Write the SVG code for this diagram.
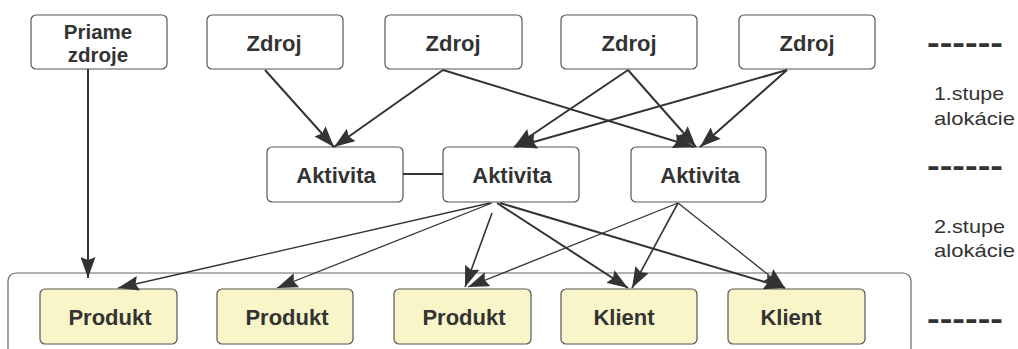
<svg xmlns="http://www.w3.org/2000/svg" width="1018" height="349" viewBox="0 0 1018 349">
<style>
.box{fill:#fff;stroke:#555;stroke-width:1.2}
.ybox{fill:#f8f6c8;stroke:#555;stroke-width:1.2}
.lbl{font-family:"Liberation Sans",Arial,sans-serif;font-weight:bold;font-size:22px;fill:#333;text-anchor:middle}
.two{font-size:20.5px}
.side{font-family:"Liberation Sans",Arial,sans-serif;font-size:19px;fill:#333}
.dash{font-family:"Liberation Sans",Arial,sans-serif;font-weight:bold;font-size:32px;fill:#333}
.c{stroke:#333;stroke-width:2;fill:none;marker-end:url(#arr)}
.t{stroke-width:1.3}
.m{stroke-width:1.6}
</style>
<defs>
<marker id="arr" markerUnits="userSpaceOnUse" markerWidth="21" markerHeight="15" refX="21" refY="7.5" orient="auto">
<path d="M0,0 L21,7.5 L0,15 L3,7.5 Z" fill="#333"/>
</marker>
</defs>
<rect width="1018" height="349" fill="#fff"/>
<g id="container"><rect x="8" y="273" width="903" height="110" rx="8" fill="none" stroke="#666" stroke-width="1.2"/></g>

<g id="priame"><rect class="box" x="31" y="15" width="136" height="54" rx="5"/><text class="lbl two" x="98" y="39">Priame</text><text class="lbl two" x="98" y="62">zdroje</text></g>
<g id="zdroj1"><rect class="box" x="207" y="15" width="136" height="54" rx="5"/><text class="lbl" x="274" y="51">Zdroj</text></g>
<g id="zdroj2"><rect class="box" x="385" y="15" width="137" height="54" rx="5"/><text class="lbl" x="453" y="51">Zdroj</text></g>
<g id="zdroj3"><rect class="box" x="561" y="15" width="136" height="54" rx="5"/><text class="lbl" x="629" y="51">Zdroj</text></g>
<g id="zdroj4"><rect class="box" x="739" y="15" width="136" height="54" rx="5"/><text class="lbl" x="807" y="51">Zdroj</text></g>

<g id="aktivita1"><rect class="box" x="267" y="147" width="136" height="55" rx="5"/><text class="lbl" x="336" y="183">Aktivita</text></g>
<g id="aktivita2"><rect class="box" x="443" y="147" width="136" height="55" rx="5"/><text class="lbl" x="512" y="183">Aktivita</text></g>
<g id="aktivita3"><rect class="box" x="631" y="147" width="135" height="55" rx="5"/><text class="lbl" x="700" y="183">Aktivita</text></g>

<g id="produkt1"><rect class="ybox" x="40" y="289" width="137" height="55" rx="5"/><text class="lbl" x="110" y="325">Produkt</text></g>
<g id="produkt2"><rect class="ybox" x="217" y="289" width="136" height="55" rx="5"/><text class="lbl" x="287" y="325">Produkt</text></g>
<g id="produkt3"><rect class="ybox" x="394" y="289" width="137" height="55" rx="5"/><text class="lbl" x="464" y="325">Produkt</text></g>
<g id="klient1"><rect class="ybox" x="561" y="289" width="136" height="55" rx="5"/><text class="lbl" x="624" y="325">Klient</text></g>
<g id="klient2"><rect class="ybox" x="728" y="289" width="137" height="55" rx="5"/><text class="lbl" x="791" y="325">Klient</text></g>

<g id="legend">
<text class="dash" x="927" y="53" textLength="76" lengthAdjust="spacingAndGlyphs">------</text>
<text class="side" x="934" y="100" textLength="70" lengthAdjust="spacingAndGlyphs">1.stupe</text>
<text class="side" x="934" y="125" textLength="81" lengthAdjust="spacingAndGlyphs">alokácie</text>
<text class="dash" x="927" y="176" textLength="76" lengthAdjust="spacingAndGlyphs">------</text>
<text class="side" x="934" y="233" textLength="71" lengthAdjust="spacingAndGlyphs">2.stupe</text>
<text class="side" x="934" y="257" textLength="81" lengthAdjust="spacingAndGlyphs">alokácie</text>
<text class="dash" x="927" y="329" textLength="76" lengthAdjust="spacingAndGlyphs">------</text>
</g>

<g id="connectors">
<path class="c" d="M88,69 L88,278"/>
<path class="c" d="M265,70 L334,147"/>
<path class="c" d="M443,70 L334,147"/>
<path class="c" d="M443,70 L694,147"/>
<path class="c" d="M628,70 L514,147"/>
<path class="c" d="M628,70 L696,147"/>
<path class="c" d="M787,70 L516,147"/>
<path class="c" d="M787,70 L700,147"/>
<path d="M403,174 L443,174" stroke="#333" stroke-width="2" fill="none"/>
<path class="c t" d="M490,203 L118,288"/>
<path class="c t" d="M492,203 L277,288"/>
<path class="c m" d="M492,213 L465,287"/>
<path class="c" d="M497,203 L628,288"/>
<path class="c" d="M500,203 L785,288"/>
<path class="c t" d="M678,203 L468,287"/>
<path class="c m" d="M678,203 L632,288"/>
<path class="c t" d="M678,203 L785,288"/>
</g>
</svg>
